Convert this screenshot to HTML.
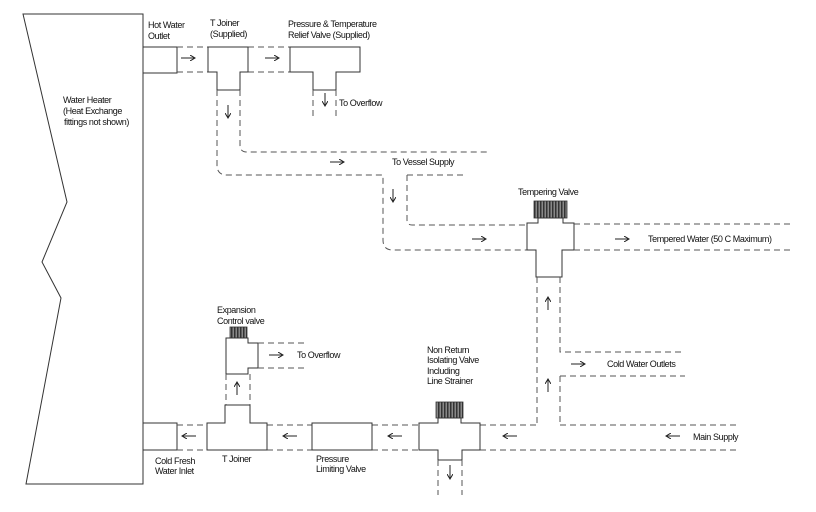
<!DOCTYPE html>
<html><head><style>
html,body{margin:0;padding:0;background:#fff;}
svg{display:block;}
text{font-family:"Liberation Sans",Arial,sans-serif;font-size:9px;fill:#111;letter-spacing:-0.4px;}
.s{fill:#fff;stroke:#333;stroke-width:1;}
.d{fill:none;stroke:#555;stroke-width:1;stroke-dasharray:6 4;}
.a{fill:none;stroke:#222;stroke-width:1;}
.k{fill:url(#st);stroke:#333;stroke-width:0.8;}
</style></head><body>
<svg width="816" height="512" viewBox="0 0 816 512" xmlns="http://www.w3.org/2000/svg">
<defs>
<marker id="h" markerWidth="6" markerHeight="6" refX="5" refY="3" orient="auto"><path d="M0,0 L5,3 L0,6" fill="none" stroke="#222" stroke-width="1"/></marker>
<pattern id="st" width="3" height="4" patternUnits="userSpaceOnUse"><rect width="3" height="4" fill="#888"/><rect width="1.5" height="4" fill="#333"/></pattern>
</defs>
<path class="s" d="M23,14 L143,14 L143,484 L26,484 L61,298 L42,262 L67,202 Z"/>
<text x="63" y="103">Water Heater</text><text x="63" y="114">(Heat Exchange</text><text x="64" y="125">fittings not shown)</text>
<rect class="s" x="143" y="47" width="34" height="26"/>
<text x="148" y="28">Hot Water</text><text x="148" y="39">Outlet</text>
<path class="d" d="M177,47H208M177,72H208M248,47H290M248,72H290"/>
<path class="s" d="M208,47H248V72H240V90H217V72H208Z"/>
<text x="210" y="26">T Joiner</text><text x="210" y="37">(Supplied)</text>
<path class="s" d="M290,47H360V72H336V90H313V72H290Z"/>
<text x="288" y="27">Pressure &amp; Temperature</text><text x="288" y="38">Relief Valve (Supplied)</text>
<path class="d" d="M313,90V117M336,90V117"/>
<text x="339" y="106">To Overflow</text>
<line class="a" x1="325" y1="93" x2="325" y2="106" marker-end="url(#h)"/>
<line class="a" x1="181" y1="58" x2="195" y2="58" marker-end="url(#h)"/>
<line class="a" x1="265" y1="58" x2="279" y2="58" marker-end="url(#h)"/>
<path class="d" d="M217,90V165Q217,175 227,175H383V240Q383,250 393,250H527"/>
<path class="d" d="M240,90V145Q240,152 247,152H490"/>
<path class="d" d="M407,175V220Q407,225 412,225H527"/>
<path class="d" d="M407,175H465"/>
<line class="a" x1="228" y1="105" x2="228" y2="118" marker-end="url(#h)"/>
<line class="a" x1="330" y1="162" x2="344" y2="162" marker-end="url(#h)"/>
<text x="392" y="165">To Vessel Supply</text>
<line class="a" x1="393" y1="189" x2="393" y2="202" marker-end="url(#h)"/>
<line class="a" x1="472" y1="239" x2="486" y2="239" marker-end="url(#h)"/>
<rect class="k" x="534" y="201" width="33" height="17"/>
<path class="s" d="M527,223H538V218H563V223H574V250H562V277H536V250H527Z"/>
<text x="518" y="195">Tempering Valve</text>
<path class="d" d="M574,224H790M574,250H790"/>
<line class="a" x1="615" y1="239" x2="629" y2="239" marker-end="url(#h)"/>
<text x="648" y="242">Tempered Water (50 C Maximum)</text>
<path class="d" d="M537,277V425M560,277V352H685M560,376H685M560,376V425"/>
<line class="a" x1="548" y1="310" x2="548" y2="297" marker-end="url(#h)"/>
<line class="a" x1="548" y1="392" x2="548" y2="379" marker-end="url(#h)"/>
<line class="a" x1="571" y1="364" x2="585" y2="364" marker-end="url(#h)"/>
<text x="607" y="367">Cold Water Outlets</text>
<rect class="s" x="143" y="423" width="34" height="27"/>
<text x="155" y="464">Cold Fresh</text><text x="155" y="474">Water Inlet</text>
<path class="d" d="M177,425H207M177,450H207M267,425H312M267,450H312M372,425H419M372,450H419M480,425H537M560,425H740M480,450H740"/>
<path class="s" d="M207,423H225V405H250V423H267V450H207Z"/>
<text x="222" y="462">T Joiner</text>
<rect class="s" x="312" y="423" width="60" height="27"/>
<text x="316" y="462">Pressure</text><text x="316" y="472">Limiting Valve</text>
<rect class="k" x="436" y="402" width="27" height="16"/>
<path class="s" d="M419,423H438V418H461V423H480V450H462V460H438V450H419Z"/>
<path class="d" d="M438,460V495M462,460V495"/>
<line class="a" x1="450" y1="465" x2="450" y2="479" marker-end="url(#h)"/>
<text x="427" y="353">Non Return</text><text x="427" y="363">Isolating Valve</text><text x="427" y="374">Including</text><text x="427" y="384">Line Strainer</text>
<line class="a" x1="196" y1="436" x2="182" y2="436" marker-end="url(#h)"/>
<line class="a" x1="297" y1="436" x2="283" y2="436" marker-end="url(#h)"/>
<line class="a" x1="402" y1="436" x2="388" y2="436" marker-end="url(#h)"/>
<line class="a" x1="517" y1="436" x2="503" y2="436" marker-end="url(#h)"/>
<line class="a" x1="680" y1="436" x2="666" y2="436" marker-end="url(#h)"/>
<text x="693" y="440">Main Supply</text>
<rect class="k" x="230" y="327" width="17" height="11"/>
<path class="s" d="M226,338H248V343H258V368H248V374H226Z"/>
<text x="217" y="313">Expansion</text><text x="217" y="324">Control valve</text>
<path class="d" d="M258,343H306M258,368H306M226,374V405M250,374V405"/>
<line class="a" x1="269" y1="355" x2="283" y2="355" marker-end="url(#h)"/>
<text x="297" y="358">To Overflow</text>
<line class="a" x1="237" y1="395" x2="237" y2="382" marker-end="url(#h)"/>
</svg>
</body></html>
